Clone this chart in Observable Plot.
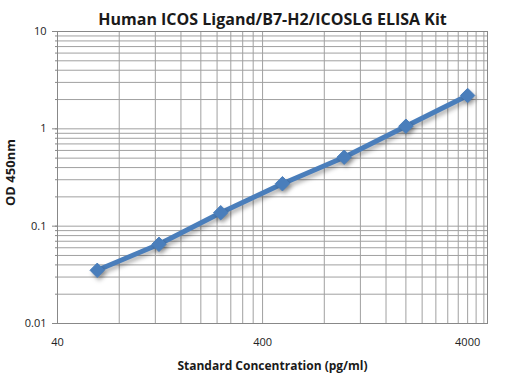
<!DOCTYPE html>
<html>
<head>
<meta charset="utf-8">
<script src="https://cdn.jsdelivr.net/npm/d3@7"></script>
<script src="https://cdn.jsdelivr.net/npm/@observablehq/plot@0.6"></script>
<style>
  html, body { margin: 0; padding: 0; background: #fff; }
  svg { display: block; }
</style>
</head>
<body>
<div id="chart"></div>
<script>
const title = "Human ICOS Ligand/B7-H2/ICOSLG ELISA Kit";
const xLabel = "Standard Concentration (pg/ml)";
const yLabel = "OD 450nm";

// Standard curve data
const concentration = [62.5, 125, 250, 500, 1000, 2000, 4000];
const od450 = [0.0352, 0.0651, 0.1375, 0.273, 0.511, 1.064, 2.20];

// Axis ticks
const xTicks = [40, 400, 4000];
const yTicks = [0.01, 0.1, 1, 10];
const xDomain = [40, 5000];
const yDomain = [0.01, 10];

// Gridlines (Excel log axis with minor units)
const xGrid = [80, 120, 160, 200, 240, 280, 320, 360, 400,
               800, 1200, 1600, 2000, 2400, 2800, 3200, 3600, 4000,
               4400, 4800];
const yGrid = [0.02, 0.03, 0.04, 0.05, 0.06, 0.07, 0.08, 0.09, 0.1,
               0.2, 0.3, 0.4, 0.5, 0.6, 0.7, 0.8, 0.9, 1,
               2, 3, 4, 5, 6, 7, 8, 9];

const data = concentration.map((c, i) => ({c, od: od450[i]}));

const gridColor = "#a0a0a0";
const font = "'Open Sans', sans-serif";

const chart = Plot.plot({
  width: 505,
  height: 377,
  marginTop: 31,
  marginBottom: 54,
  marginLeft: 57,
  marginRight: 18,
  style: {fontFamily: font, fontSize: "11px", color: "#000", background: "#fff"},
  x: {type: "log", domain: xDomain, label: null},
  y: {type: "log", domain: yDomain, label: null},
  marks: [
    Plot.ruleX(xGrid, {stroke: gridColor, strokeWidth: 1}),
    Plot.ruleY(yGrid, {stroke: gridColor, strokeWidth: 1}),
    Plot.frame({stroke: "#888"}),
    Plot.axisY(yGrid, {tickSize: 2, tickFormat: () => "", stroke: "#888", label: null}),
    Plot.axisY({ticks: yTicks, tickSize: 5, tickPadding: 6, tickFormat: d => String(d), stroke: "#888", fill: "#222", label: null}),
    Plot.axisX({ticks: xTicks, tickSize: 0, tickPadding: 15, tickFormat: d => String(d), fill: "#222", label: null}),
    Plot.line(data, {x: "c", y: "od", stroke: "#4a7ebb", strokeWidth: 5, strokeLinejoin: "round", strokeLinecap: "round"}),
    Plot.dot(data, {x: "c", y: "od", symbol: "diamond2", r: 6.5, fill: "#4a7ebb", stroke: "#4a7ebb", strokeWidth: 1}),
    Plot.text([title], {frameAnchor: "top", dy: -18, fontSize: 16, fontWeight: "bold", fill: "#1a1a1a"}),
    Plot.text([xLabel], {frameAnchor: "bottom", dy: 46, fontSize: 12, fontWeight: "bold", fill: "#1a1a1a"}),
    Plot.text([yLabel], {frameAnchor: "left", textAnchor: "middle", dx: -47, dy: -5, rotate: -90, fontSize: 13, fontWeight: "bold", fill: "#1a1a1a"})
  ]
});

d3.select(chart).selectAll("g[aria-label='line'] path, g[aria-label='dot'] path")
  .style("filter", "drop-shadow(2px 3px 2px rgba(0,0,0,0.3))");

document.getElementById("chart").appendChild(chart);
</script>
</body>
</html>
